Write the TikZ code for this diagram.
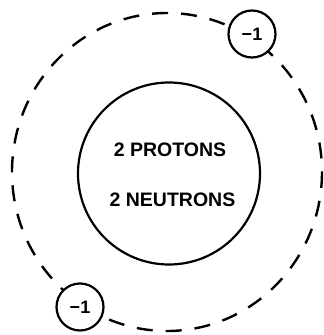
\documentclass[tikz,border=0pt]{standalone}
\usepackage{fontspec}
\setmainfont{Liberation Sans}
\begin{document}
\begin{tikzpicture}[x=1pt,y=-1pt,
  orbit/.style={draw=black,line width=2.4pt,dash pattern=on 16pt off 13pt},
  nucleus/.style={circle,draw=black,line width=2.2pt,minimum size=182pt,inner sep=0pt},
  electron/.style={circle,draw=black,fill=white,line width=2.2pt,minimum size=47pt,inner sep=0pt,font=\bfseries\fontsize{18}{18}\selectfont},
  lbl/.style={font=\bfseries\fontsize{19.5}{20}\selectfont,inner sep=0pt}]
\useasboundingbox (0,0) rectangle (324,335);
\draw[orbit] (167,172) ellipse [x radius=155, y radius=159];
\node[nucleus] (nuc) at (169,173.5) {};
\node[lbl] (p) at (170,150) {2 PROTONS};
\node[lbl] (n) at (172.5,200) {2 NEUTRONS};
\node[electron] (e1) at (252,34) {−1};
\node[electron] (e2) at (80,307) {−1};
\end{tikzpicture}
\end{document}
